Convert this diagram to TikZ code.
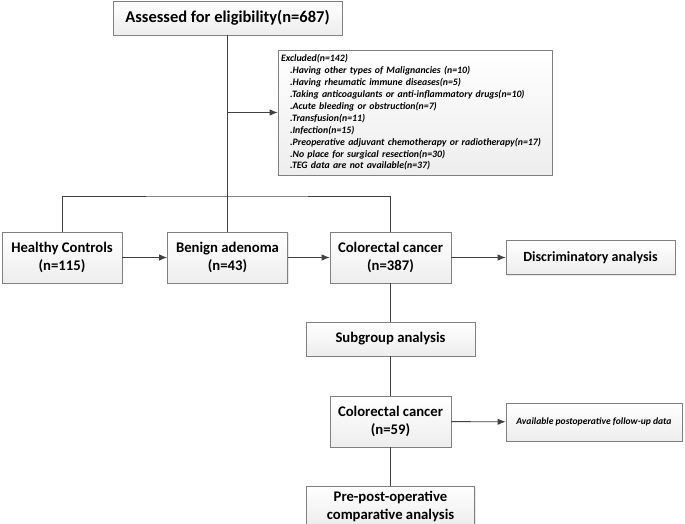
\documentclass[tikz,border=0pt]{standalone}
\usepackage{fontspec}
\setmainfont{Carlito}
\usepackage{tikz}
\usetikzlibrary{arrows,arrows.meta,positioning,shadows,calc}
\definecolor{boxline}{RGB}{128,128,128}
\definecolor{flowline}{RGB}{64,64,64}

\begin{document}
\begin{tikzpicture}[x=1pt,y=-1pt]
  \tikzset{block/.style={draw=boxline,line width=0.8pt,top color=white,bottom color=black!7,
      drop shadow={shadow xshift=1.2pt,shadow yshift=-1.2pt,fill=black!18},
      align=center,inner sep=2pt,font=\fontsize{14.7}{18}\selectfont\bfseries}}
  \tikzset{flow/.style={draw=flowline,line width=0.9pt}}
  \tikzset{transition/.style={flow,-{Latex[length=8pt,width=6.5pt]}}}
  \useasboundingbox (0,0) rectangle (685,524);
  \node[block,minimum width=229pt,minimum height=34pt,
      font=\fontsize{16.5}{19}\selectfont\bfseries] (assessed) at (227.5,18) {Assessed for eligibility(n=687)};
  \node[block,minimum height=125pt,text width=268pt,inner xsep=3pt,align=left,
      font=\fontsize{9.8}{11.9}\selectfont\bfseries\itshape] (excluded) at (415,112.5) {Excluded(n=142)\\
    \hspace*{9pt}.Having other types of Malignancies (n=10)\\
    \hspace*{9pt}.Having rheumatic immune diseases(n=5)\\
    \hspace*{9pt}.Taking anticoagulants or anti-inflammatory drugs(n=10)\\
    \hspace*{9pt}.Acute bleeding or obstruction(n=7)\\
    \hspace*{9pt}.Transfusion(n=11)\\
    \hspace*{9pt}.Infection(n=15)\\
    \hspace*{9pt}\mbox{.Preoperative adjuvant chemotherapy or radiotherapy(n=17)}\\
    \hspace*{9pt}.No place for surgical resection(n=30)\\
    \hspace*{9pt}.TEG data are not available(n=37)};
  \node[block,minimum width=120pt,minimum height=51pt] (healthy) at (62,257.5) {Healthy Controls\\(n=115)};
  \node[block,minimum width=120pt,minimum height=51pt] (benign) at (227.5,257.5) {Benign adenoma\\(n=43)};
  \node[block,minimum width=121pt,minimum height=51pt] (crc) at (390.5,257.5) {Colorectal cancer\\(n=387)};
  \node[block,minimum width=169pt,minimum height=34pt,
      font=\fontsize{14}{17}\selectfont\bfseries] (discrim) at (590.5,257.5) {Discriminatory analysis};
  \node[block,minimum width=169pt,minimum height=34pt] (subgroup) at (390.5,339) {Subgroup analysis};
  \node[block,minimum width=121pt,minimum height=51pt] (crcsub) at (390.5,421.5) {Colorectal cancer\\(n=59)};
  \node[block,minimum width=176pt,minimum height=38pt,
      font=\fontsize{9.6}{11}\selectfont\bfseries\itshape] (followup) at (594,422) {Available postoperative follow-up data};
  \node[block,minimum width=168pt,minimum height=40pt] (prepost) at (390.5,506) {Pre-post-operative\\comparative analysis};
  \coordinate (branch) at (227.5,196);
  \draw[flow] (assessed) -- (benign);
  \draw[transition] (assessed.south |- excluded.west) -- (excluded);
  \draw[flow] (healthy) |- (branch) -| (crc);
  \draw[transition] (healthy) -- (benign);
  \draw[transition] (benign) -- (crc);
  \draw[transition] (crc) -- (discrim);
  \draw[flow] (crc) -- (subgroup);
  \draw[flow] (subgroup) -- (crcsub);
  \draw[transition] (crcsub) -- (followup);
  \draw[flow] (crcsub) -- (prepost);
\end{tikzpicture}
\end{document}
